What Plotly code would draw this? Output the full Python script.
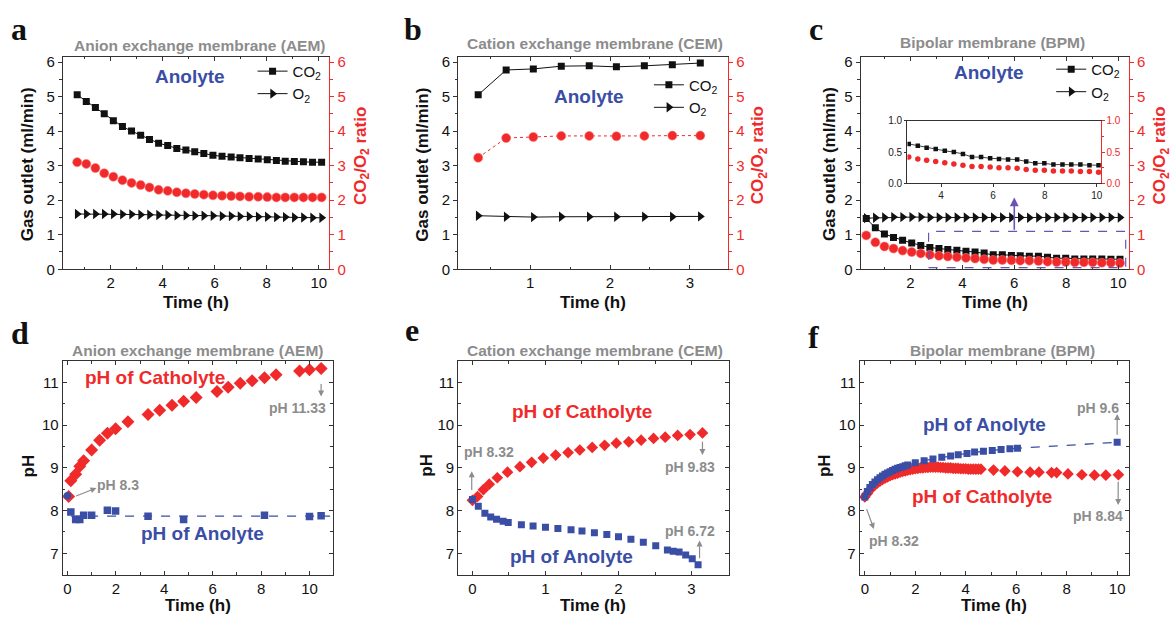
import plotly.graph_objects as go

W, H = 1174, 625
def px(x): return x / W
def py(y): return 1 - y / H

# ---------------- data ----------------
# (a) AEM gas outlet
a_time = [0.71, 1.06, 1.41, 1.75, 2.10, 2.45, 2.80, 3.15, 3.49, 3.84, 4.19, 4.54, 4.89, 5.23,
          5.58, 5.93, 6.28, 6.63, 6.97, 7.32, 7.67, 8.02, 8.37, 8.71, 9.06, 9.41, 9.76, 10.11]
a_co2 = [5.05, 4.86, 4.68, 4.50, 4.30, 4.13, 4.00, 3.88, 3.76, 3.65, 3.58, 3.50, 3.45, 3.40,
         3.35, 3.30, 3.27, 3.25, 3.23, 3.21, 3.19, 3.17, 3.15, 3.13, 3.12, 3.11, 3.10, 3.10]
a_o2 = [1.60, 1.60, 1.60, 1.60, 1.60, 1.59, 1.59, 1.58, 1.58, 1.57, 1.57, 1.56, 1.56, 1.55,
        1.55, 1.55, 1.54, 1.54, 1.53, 1.53, 1.52, 1.52, 1.51, 1.51, 1.50, 1.50, 1.49, 1.49]
a_ratio = [3.10, 3.05, 2.93, 2.78, 2.68, 2.58, 2.50, 2.44, 2.37, 2.30, 2.27, 2.23, 2.20, 2.18,
           2.16, 2.14, 2.13, 2.12, 2.11, 2.10, 2.10, 2.09, 2.08, 2.08, 2.08, 2.08, 2.08, 2.08]

# (b) CEM gas outlet
b_time = [0.35, 0.70, 1.04, 1.39, 1.74, 2.08, 2.43, 2.78, 3.13]
b_co2 = [5.05, 5.77, 5.80, 5.88, 5.89, 5.86, 5.89, 5.92, 5.97]
b_o2 = [1.55, 1.52, 1.51, 1.52, 1.52, 1.52, 1.52, 1.52, 1.53]
b_ratio = [3.23, 3.80, 3.83, 3.86, 3.86, 3.85, 3.86, 3.87, 3.87]

# (c) BPM gas outlet
c_time = [0.30, 0.65, 1.00, 1.35, 1.70, 2.05, 2.40, 2.75, 3.10, 3.44, 3.79, 4.14, 4.49, 4.84,
          5.19, 5.54, 5.89, 6.23, 6.58, 6.93, 7.28, 7.63, 7.98, 8.33, 8.68, 9.02, 9.37, 9.72, 10.07]
c_co2 = [1.47, 1.20, 1.02, 0.92, 0.84, 0.76, 0.69, 0.63, 0.60, 0.57, 0.55, 0.52, 0.50, 0.47,
         0.42, 0.42, 0.40, 0.39, 0.38, 0.38, 0.35, 0.32, 0.32, 0.30, 0.30, 0.30, 0.30, 0.29, 0.29]
c_o2 = [1.48, 1.49, 1.50, 1.51, 1.51, 1.51, 1.51, 1.50, 1.50, 1.50, 1.50, 1.50, 1.50, 1.50,
        1.50, 1.50, 1.50, 1.50, 1.49, 1.50, 1.50, 1.50, 1.50, 1.50, 1.50, 1.50, 1.50, 1.50, 1.50]
c_ratio = [0.98, 0.78, 0.66, 0.60, 0.54, 0.50, 0.46, 0.42, 0.39, 0.37, 0.35, 0.33, 0.31, 0.29,
           0.27, 0.27, 0.26, 0.25, 0.25, 0.24, 0.22, 0.21, 0.21, 0.20, 0.20, 0.20, 0.19, 0.19, 0.18]

# (d) AEM pH
d_cat_time = [0.05, 0.14, 0.34, 0.51, 0.67, 1.00, 1.33, 1.65, 1.99, 2.50, 3.33, 3.81, 4.32, 4.80,
              5.32, 6.18, 6.64, 7.14, 7.63, 8.14, 8.62, 9.59, 10.00, 10.48]
d_cat_ph = [8.33, 8.70, 8.85, 9.04, 9.17, 9.42, 9.65, 9.81, 9.92, 10.08, 10.25, 10.35, 10.47, 10.56,
            10.65, 10.79, 10.89, 10.98, 11.04, 11.11, 11.18, 11.27, 11.30, 11.33]
d_an_time = [0.00, 0.14, 0.34, 0.51, 0.67, 1.00, 1.65, 1.99, 3.33, 4.80, 8.14, 10.00, 10.48]
d_an_ph = [8.35, 7.97, 7.79, 7.79, 7.89, 7.89, 8.01, 7.99, 7.87, 7.79, 7.89, 7.86, 7.88]
d_an_mean_time = [0.15, 10.85]
d_an_mean_ph = [7.87, 7.87]

# (e) CEM pH
e_cat_time = [0.00, 0.07, 0.15, 0.23, 0.34, 0.48, 0.65, 0.81, 0.97, 1.14, 1.31, 1.47, 1.64, 1.81,
              1.97, 2.14, 2.31, 2.48, 2.64, 2.81, 2.98, 3.15]
e_cat_ph = [8.24, 8.33, 8.49, 8.62, 8.77, 8.90, 9.03, 9.13, 9.23, 9.30, 9.36, 9.42, 9.48, 9.53,
            9.58, 9.61, 9.65, 9.69, 9.72, 9.76, 9.78, 9.82]
e_an_time = [0.00, 0.08, 0.17, 0.25, 0.33, 0.42, 0.49, 0.67, 0.83, 1.00, 1.17, 1.35, 1.50, 1.67,
             1.84, 2.00, 2.17, 2.34, 2.51, 2.67, 2.75, 2.83, 2.92, 3.01, 3.09]
e_an_ph = [8.26, 8.10, 7.94, 7.85, 7.80, 7.75, 7.72, 7.67, 7.64, 7.61, 7.58, 7.55, 7.52, 7.48,
           7.44, 7.39, 7.33, 7.26, 7.18, 7.08, 7.05, 7.03, 6.96, 6.87, 6.73]

# (f) BPM pH
f_an_time = [0.0, 0.1, 0.2, 0.3, 0.4, 0.5, 0.6, 0.7, 0.8, 0.9, 1.0, 1.1, 1.2, 1.3, 1.4, 1.5, 1.6, 1.7,
             2.0, 2.35, 2.7, 3.05, 3.4, 3.7, 4.05, 4.35, 4.7, 5.05, 5.4, 5.75, 6.05, 10.0]
f_an_ph = [8.32, 8.45, 8.54, 8.61, 8.67, 8.72, 8.77, 8.81, 8.85, 8.88, 8.91, 8.94, 8.97, 8.99, 9.01,
           9.03, 9.05, 9.07, 9.12, 9.17, 9.21, 9.25, 9.28, 9.31, 9.34, 9.37, 9.39, 9.41, 9.43, 9.45,
           9.46, 9.60]
f_cat_time = [0.0, 0.1, 0.2, 0.3, 0.4, 0.5, 0.6, 0.7, 0.8, 0.9, 1.0, 1.1, 1.2, 1.3, 1.4, 1.5, 1.6,
              1.7, 1.8, 1.9, 2.0, 2.1, 2.2, 2.3, 2.4, 2.5, 2.6, 2.7, 2.8, 2.9, 3.0, 3.1, 3.2, 3.3,
              3.4, 3.5, 3.6, 3.7, 3.8, 3.9, 4.0, 4.1, 4.2, 4.3, 4.4, 4.5, 4.6,
              5.1, 5.55, 6.05, 6.55, 6.9, 7.4, 7.6, 8.05, 8.6, 9.1, 9.55, 10.05]
f_cat_ph = [8.32, 8.40, 8.48, 8.55, 8.60, 8.65, 8.69, 8.73, 8.76, 8.79, 8.82, 8.84, 8.86, 8.88,
            8.90, 8.92, 8.93, 8.95, 8.96, 8.97, 8.98, 8.99, 9.00, 9.00, 9.01, 9.01, 9.02, 9.02,
            9.02, 9.02, 9.01, 9.01, 9.00, 9.00, 9.00, 8.99, 8.99, 8.99, 8.98, 8.98, 8.98, 8.97,
            8.97, 8.97, 8.97, 8.97, 8.97,
            8.95, 8.93, 8.91, 8.90, 8.90, 8.89, 8.89, 8.86, 8.84, 8.83, 8.83, 8.84]

# ---------------- styling ----------------
BLACK = '#111111'
RED = '#f02a2a'
BLUE = '#3a4ea6'
GRAY = '#8c8c8c'
PURPLE = '#6b52b5'
AX = '#333333'
FONT = 'Liberation Sans, Arial, sans-serif'
SERIF = 'Liberation Serif, Times New Roman, serif'

fig = go.Figure()

def sc(x, y, xa, ya, **kw):
    fig.add_trace(go.Scatter(x=x, y=y, xaxis=xa, yaxis=ya, **kw))

sq = dict(symbol='square', size=7, color=BLACK)
tri = dict(symbol='triangle-right', size=9, color=BLACK)
ball = dict(symbol='circle', size=9, color=RED, line=dict(color='#ff7070', width=0.6))

# a
sc(a_time, a_co2, 'x', 'y', mode='lines+markers', name='CO<sub>2</sub>', legend='legend',
   line=dict(color=BLACK, width=1), marker=sq)
sc(a_time, a_o2, 'x', 'y', mode='lines+markers', name='O<sub>2</sub>', legend='legend',
   line=dict(color=BLACK, width=1), marker=tri)
sc(a_time, a_ratio, 'x', 'y2', mode='markers', showlegend=False, marker=ball)
# b
sc(b_time, b_co2, 'x2', 'y3', mode='lines+markers', name='CO<sub>2</sub>', legend='legend2',
   line=dict(color=BLACK, width=1), marker=sq)
sc(b_time, b_o2, 'x2', 'y3', mode='lines+markers', name='O<sub>2</sub>', legend='legend2',
   line=dict(color=BLACK, width=1), marker=tri)
sc(b_time, b_ratio, 'x2', 'y4', mode='lines+markers', showlegend=False,
   line=dict(color=RED, width=1, dash='dot'), marker=ball)
# c
sc(c_time, c_co2, 'x3', 'y5', mode='lines+markers', name='CO<sub>2</sub>', legend='legend3',
   line=dict(color=BLACK, width=1), marker=sq)
sc(c_time, c_o2, 'x3', 'y5', mode='lines+markers', name='O<sub>2</sub>', legend='legend3',
   line=dict(color=BLACK, width=1), marker=tri)
sc(c_time, c_ratio, 'x3', 'y6', mode='markers', showlegend=False, marker=ball)
# inset
sc(c_time[7:], c_co2[7:], 'x4', 'y7', mode='lines+markers', showlegend=False,
   line=dict(color=BLACK, width=0.8), marker=dict(symbol='square', size=4.5, color=BLACK))
sc(c_time[7:], c_ratio[7:], 'x4', 'y8', mode='markers', showlegend=False,
   marker=dict(symbol='circle', size=5.5, color=RED))
# d
sc(d_an_mean_time, d_an_mean_ph, 'x5', 'y9', mode='lines', showlegend=False,
   line=dict(color=BLUE, width=1.3, dash='dash'))
sc(d_cat_time, d_cat_ph, 'x5', 'y9', mode='markers', showlegend=False,
   marker=dict(symbol='diamond', size=10, color=RED))
sc(d_an_time, d_an_ph, 'x5', 'y9', mode='markers', showlegend=False,
   marker=dict(symbol=['circle'] + ['square'] * (len(d_an_time) - 1), size=7.5, color=BLUE))
# e
sc(e_cat_time, e_cat_ph, 'x6', 'y10', mode='markers', showlegend=False,
   marker=dict(symbol='diamond', size=9, color=RED))
sc(e_an_time, e_an_ph, 'x6', 'y10', mode='markers', showlegend=False,
   marker=dict(symbol='square', size=7, color=BLUE))
# f
sc(f_cat_time, f_cat_ph, 'x7', 'y11', mode='markers', showlegend=False,
   marker=dict(symbol='diamond', size=9, color=RED))
sc(f_an_time, f_an_ph, 'x7', 'y11', mode='lines+markers', showlegend=False,
   line=dict(color=BLUE, width=1.3, dash='dash'),
   marker=dict(symbol='square', size=7, color=BLUE))

# ---------------- axes ----------------
TICKFONT = dict(family=FONT, size=15, color=BLACK)

def xax(dom, rng, anchor, dtick, minor, tick0=0):
    return dict(domain=[px(dom[0]), px(dom[1])], range=rng, anchor=anchor,
                showline=True, linecolor=AX, linewidth=1, mirror='ticks',
                ticks='inside', ticklen=4, tickcolor=AX, tickwidth=1,
                dtick=dtick, tick0=tick0,
                minor=dict(ticks='inside', ticklen=2.5, dtick=minor, tick0=tick0, tickcolor=AX),
                tickfont=TICKFONT, showgrid=False, zeroline=False)

def yleft_top(dom, anchor):
    return dict(domain=[py(dom[1]), py(dom[0])], range=[0, 6.15], anchor=anchor,
                showline=True, linecolor=AX, linewidth=1, mirror=False,
                ticks='outside', ticklen=4, tickcolor=AX, dtick=1, tick0=0,
                minor=dict(ticks='outside', ticklen=2.5, dtick=0.5, tickcolor=AX),
                tickfont=TICKFONT, showgrid=False, zeroline=False)

def yright_top(over, anchor):
    return dict(overlaying=over, side='right', anchor=anchor, range=[0, 6.15],
                showline=True, linecolor=RED, linewidth=1,
                ticks='outside', ticklen=4, tickcolor=RED, dtick=1, tick0=0,
                minor=dict(ticks='outside', ticklen=2.5, dtick=0.5, tickcolor=RED),
                tickfont=dict(family=FONT, size=15, color=RED),
                showgrid=False, zeroline=False)

def ybot(dom, anchor):
    return dict(domain=[py(dom[1]), py(dom[0])], range=[6.5, 11.5], anchor=anchor,
                showline=True, linecolor=AX, linewidth=1, mirror='ticks',
                ticks='inside', ticklen=4, tickcolor=AX, dtick=1, tick0=0,
                minor=dict(ticks='inside', ticklen=2.5, dtick=0.5, tick0=0, tickcolor=AX),
                tickfont=TICKFONT, showgrid=False, zeroline=False)

TOP = [52, 269.3]
BOT = [363.3, 581.7]
A_X, B_X, C_X = [63, 330], [459, 729.5], [862, 1131]
D_X, E_X, F_X = [62.7, 333.3], [459, 730], [861, 1130.7]
IN_X, IN_Y = [909, 1103], [117.3, 181.5]

INFONT = dict(family=FONT, size=10, color='#222')
layout = dict(
    xaxis=xax(A_X, [0.16, 10.41], 'y', 2, 1),
    yaxis=yleft_top(TOP, 'x'),
    yaxis2=yright_top('y', 'x'),
    xaxis2=xax(B_X, [0.1, 3.48], 'y3', 1, 0.5),
    yaxis3=yleft_top(TOP, 'x2'),
    yaxis4=yright_top('y3', 'x2'),
    xaxis3=xax(C_X, [0.08, 10.42], 'y5', 2, 1),
    yaxis5=yleft_top(TOP, 'x3'),
    yaxis6=yright_top('y5', 'x3'),
    xaxis4=dict(domain=[px(IN_X[0]), px(IN_X[1])], range=[2.70, 10.17], anchor='y7',
                showline=True, linecolor=AX, linewidth=0.8, mirror=True,
                ticks='outside', ticklen=2.5, tickcolor=AX, dtick=2, tick0=0,
                tickfont=INFONT, showgrid=False, zeroline=False),
    yaxis7=dict(domain=[py(IN_Y[1]), py(IN_Y[0])], range=[0, 1], anchor='x4',
                showline=True, linecolor=AX, linewidth=0.8,
                ticks='outside', ticklen=2.5, tickcolor=AX, dtick=0.5, tickformat='.1f',
                tickfont=INFONT, showgrid=False, zeroline=False),
    yaxis8=dict(overlaying='y7', side='right', anchor='x4', range=[0, 1],
                showline=True, linecolor=RED, linewidth=0.8,
                ticks='outside', ticklen=2.5, tickcolor=RED, dtick=0.5, tickformat='.1f',
                minor=dict(ticks='outside', ticklen=2, dtick=0.25, tickcolor=RED),
                tickfont=dict(family=FONT, size=10, color=RED),
                showgrid=False, zeroline=False),
    xaxis5=xax(D_X, [-0.2, 10.96], 'y9', 2, 1),
    yaxis9=ybot(BOT, 'x5'),
    xaxis6=xax(E_X, [-0.195, 3.51], 'y10', 1, 0.5),
    yaxis10=ybot(BOT, 'x6'),
    xaxis7=xax(F_X, [-0.21, 10.46], 'y11', 2, 1),
    yaxis11=ybot(BOT, 'x7'),
)

def leg(xp, yp):
    return dict(x=px(xp), y=py(yp), xanchor='left', yanchor='top',
                bgcolor='rgba(0,0,0,0)', font=dict(family=FONT, size=15, color=BLACK),
                itemwidth=30, tracegroupgap=0, traceorder='normal')

layout['legend'] = leg(253, 50)
layout['legend2'] = leg(650, 64)
layout['legend3'] = leg(1053, 48)

# ---------------- annotations ----------------
ann = []

def txt(x, y, text, size=14, color=BLACK, bold=True, family=FONT, angle=0, xref='paper', yref='paper'):
    if xref == 'paper':
        x, y = px(x), py(y)
    ann.append(dict(x=x, y=y, xref=xref, yref=yref, text=('<b>%s</b>' % text) if bold else text,
                    showarrow=False, textangle=angle, xanchor='center', yanchor='middle',
                    font=dict(family=family, size=size, color=color)))

def arrow(x0, y0, x1, y1, xr, yr, color=GRAY, width=1.2, head=2, hsize=1.0):
    ann.append(dict(x=x1, y=y1, ax=x0, ay=y0, xref=xr, yref=yr, axref=xr, ayref=yr,
                    text='', showarrow=True, arrowhead=head, arrowsize=hsize,
                    arrowwidth=width, arrowcolor=color))

# panel letters
for lab, (x, y) in zip('abcdef', [(19, 24), (414, 24), (817, 24), (20, 334), (413, 331), (815, 339)]):
    txt(x, y, lab, size=32, family=SERIF)

# titles
TS = 15.5
txt(200, 40, 'Anion exchange membrane (AEM)', size=TS, color=GRAY)
txt(596, 38, 'Cation exchange membrane (CEM)', size=TS, color=GRAY)
txt(994, 37, 'Bipolar membrane (BPM)', size=TS, color=GRAY)
txt(198, 352, 'Anion exchange membrane (AEM)', size=TS, color=GRAY)
txt(596, 352, 'Cation exchange membrane (CEM)', size=TS, color=GRAY)
txt(1004, 352, 'Bipolar membrane (BPM)', size=TS, color=GRAY)

# axis titles
AS = 17
for cx in [(A_X[0] + A_X[1]) / 2, (B_X[0] + B_X[1]) / 2, (C_X[0] + C_X[1]) / 2]:
    txt(cx, 303, 'Time (h)', size=AS)
for cx in [(D_X[0] + D_X[1]) / 2, (E_X[0] + E_X[1]) / 2, (F_X[0] + F_X[1]) / 2]:
    txt(cx, 613, 'Time (h)', size=AS)
for lx in [27, 423, 831]:
    txt(lx, 162, 'Gas outlet (ml/min)', size=AS, angle=-90)
for rx in [362, 760, 1163]:
    txt(rx, 153, 'CO<sub>2</sub>/O<sub>2</sub> ratio', size=AS, color=RED, angle=-90)
for lx in [29, 427, 826]:
    txt(lx, 470, 'pH', size=AS, angle=-90)

# "Anolyte" labels
txt(190, 72, 'Anolyte', size=19, color=BLUE)
txt(590, 93, 'Anolyte', size=19, color=BLUE)
txt(991, 68, 'Anolyte', size=19, color=BLUE)

# c: dashed box and arrow to inset
shapes = [dict(type='rect', xref='x3', yref='y5', x0=2.70, x1=10.29, y0=0.05, y1=1.10,
               line=dict(color=PURPLE, width=1.2, dash='dash'), fillcolor='rgba(0,0,0,0)')]
arrow(6.0, 1.10, 6.0, 2.08, 'x3', 'y5', color=PURPLE, width=1.6, head=2, hsize=1.1)

# d
PS, GS = 19, 14
txt(3.6, 11.11, 'pH of Catholyte', size=PS, color=RED, xref='x5', yref='y9')
txt(5.6, 7.46, 'pH of Anolyte', size=PS, color=BLUE, xref='x5', yref='y9')
txt(9.5, 10.40, 'pH 11.33', size=GS, color=GRAY, xref='x5', yref='y9')
arrow(10.48, 11.0, 10.48, 10.67, 'x5', 'y9')
txt(2.1, 8.61, 'pH 8.3', size=GS, color=GRAY, xref='x5', yref='y9')
arrow(0.3, 8.33, 1.2, 8.53, 'x5', 'y9')

# e
txt(1.5, 10.31, 'pH of Catholyte', size=PS, color=RED, xref='x6', yref='y10')
txt(1.36, 6.92, 'pH of Anolyte', size=PS, color=BLUE, xref='x6', yref='y10')
txt(0.23, 9.38, 'pH 8.32', size=GS, color=GRAY, xref='x6', yref='y10')
arrow(-0.01, 8.45, -0.01, 8.92, 'x6', 'y10')
txt(2.98, 9.02, 'pH 9.83', size=GS, color=GRAY, xref='x6', yref='y10')
arrow(3.15, 9.65, 3.15, 9.30, 'x6', 'y10')
txt(2.98, 7.53, 'pH 6.72', size=GS, color=GRAY, xref='x6', yref='y10')
arrow(3.11, 6.85, 3.11, 7.30, 'x6', 'y10')

# f
txt(4.74, 10.02, 'pH of Anolyte', size=PS, color=BLUE, xref='x7', yref='y11')
txt(4.66, 8.33, 'pH of Catholyte', size=PS, color=RED, xref='x7', yref='y11')
txt(9.25, 10.41, 'pH 9.6', size=GS, color=GRAY, xref='x7', yref='y11')
arrow(10.0, 9.74, 10.0, 10.26, 'x7', 'y11')
txt(9.25, 7.88, 'pH 8.84', size=GS, color=GRAY, xref='x7', yref='y11')
arrow(10.04, 8.71, 10.04, 8.13, 'x7', 'y11')
txt(1.15, 7.30, 'pH 8.32', size=GS, color=GRAY, xref='x7', yref='y11')
arrow(0.05, 8.07, 0.36, 7.57, 'x7', 'y11')

layout.update(
    width=W, height=H, autosize=False,
    margin=dict(l=0, r=0, t=0, b=0),
    paper_bgcolor='white', plot_bgcolor='white',
    font=dict(family=FONT, color=BLACK),
    annotations=ann, shapes=shapes,
)
fig.update_layout(**layout)
fig.write_html('out.html', config={'displayModeBar': False},
               post_script="document.body.style.margin='0px';document.body.style.overflow='hidden';")
